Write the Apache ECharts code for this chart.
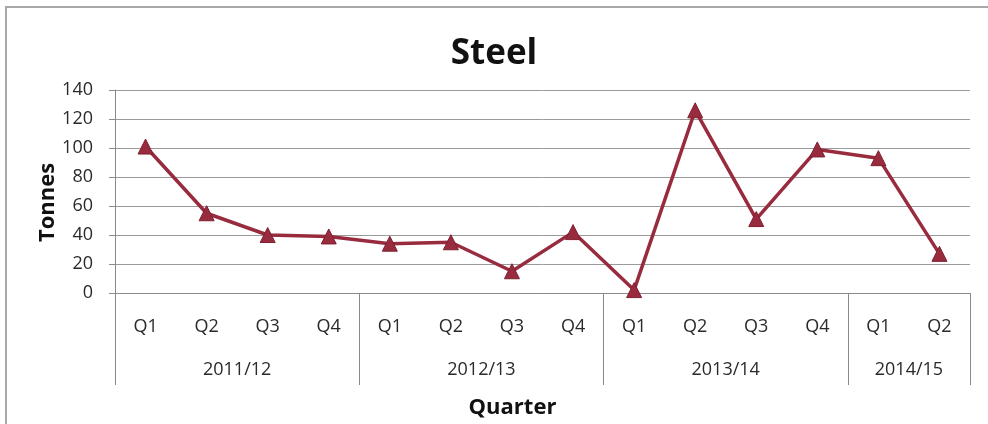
<!DOCTYPE html>
<html>
<head>
<meta charset="utf-8">
<script src="https://cdn.jsdelivr.net/npm/echarts@6/dist/echarts.min.js"></script>
<style>
html,body{margin:0;padding:0;background:#fff;overflow:hidden;}
#frame{position:absolute;left:5px;top:6px;width:1000px;height:440px;border:2px solid #a8a8a8;box-sizing:border-box;}
#chart{position:absolute;left:0;top:0;width:988px;height:424px;}
</style>
</head>
<body>
<div id="frame"></div>
<div id="chart"></div>
<script>
// ---- data ----
var quarters = ['Q1','Q2','Q3','Q4','Q1','Q2','Q3','Q4','Q1','Q2','Q3','Q4','Q1','Q2'];
var steelTonnes = [101, 55, 40, 39, 34, 35, 15, 42, 2, 126, 51, 99, 93, 27];
var years = ['2011/12','2012/13','2013/14','2014/15'];
var quartersPerYear = [4, 4, 4, 2];
var yTicks = {min: 0, max: 140, interval: 20};

// build half-slot axis for the year grouping row
var halfSlots = [];
var boundaries = {};
(function(){
  var total = 0;
  for (var k = 0; k < quartersPerYear.length; k++) total += quartersPerYear[k];
  for (var i = 0; i <= total * 2; i++) halfSlots.push('');
  var pos = 0;
  boundaries[0] = true;
  for (var j = 0; j < years.length; j++) {
    halfSlots[pos + quartersPerYear[j]] = years[j];
    pos += quartersPerYear[j] * 2;
    boundaries[pos] = true;
  }
})();

var chart = echarts.init(document.getElementById('chart'), null, {renderer: 'canvas'});
var font = '"Open Sans", "Liberation Sans", sans-serif';
chart.setOption({
  animation: false,
  textStyle: {fontFamily: font},
  title: {
    text: 'Steel',
    left: 'center',
    top: 32,
    textStyle: {fontFamily: font, fontSize: 35, fontWeight: 'bold', color: '#111'}
  },
  grid: {left: 115, right: 18, top: 90, bottom: 131, containLabel: false},
  xAxis: [{
    type: 'category',
    data: quarters,
    boundaryGap: true,
    axisLine: {show: true, lineStyle: {color: '#8a8a8a', width: 1}},
    axisTick: {show: false},
    axisLabel: {margin: 25, fontSize: 18, color: '#2a2a2a', fontFamily: font}
  }, {
    type: 'category',
    data: halfSlots,
    boundaryGap: false,
    position: 'bottom',
    axisLine: {show: false},
    axisTick: {
      show: true,
      length: 92,
      inside: false,
      interval: function (idx) { return !!boundaries[idx]; },
      lineStyle: {color: '#8a8a8a', width: 1}
    },
    axisLabel: {
      margin: 68,
      fontSize: 18,
      color: '#2a2a2a',
      fontFamily: font,
      interval: function (idx, val) { return val !== ''; }
    },
    name: 'Quarter',
    nameLocation: 'middle',
    nameGap: 104,
    nameMoveOverlap: false,
    nameTextStyle: {fontSize: 22, fontWeight: 'bold', color: '#111', fontFamily: font, padding: [0, 60, 0, 0]}
  }],
  yAxis: {
    type: 'value',
    min: yTicks.min,
    max: yTicks.max,
    interval: yTicks.interval,
    name: 'Tonnes',
    nameLocation: 'middle',
    nameGap: 56,
    nameMoveOverlap: false,
    nameTextStyle: {fontSize: 22, fontWeight: 'bold', color: '#111', fontFamily: font, padding: [0, 22, 0, 0]},
    axisLine: {show: true, lineStyle: {color: '#8a8a8a', width: 1}},
    axisTick: {show: true, length: 6, lineStyle: {color: '#8a8a8a'}},
    axisLabel: {margin: 22, fontSize: 18, color: '#2a2a2a', fontFamily: font},
    splitLine: {show: true, lineStyle: {color: '#9a9a9a', width: 1}}
  },
  series: [{
    type: 'line',
    xAxisIndex: 0,
    data: steelTonnes,
    symbol: 'triangle',
    symbolSize: 15,
    lineStyle: {color: '#982b3e', width: 3.5},
    itemStyle: {color: '#982b3e', borderColor: '#7e2030', borderWidth: 1}
  }]
});
</script>
</body>
</html>
